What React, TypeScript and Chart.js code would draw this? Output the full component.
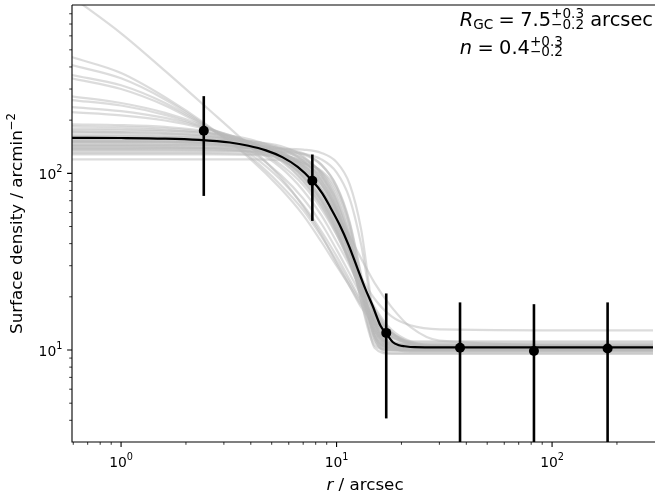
import React, { useEffect, useRef } from "react";
import { Chart, registerables } from "chart.js";

Chart.register(...registerables);

// ---------- data ----------
const xMin = 0.592;
const xMax = 294;
const yMin = 3.015;
const yMax = 897;

// radius grid of the grey posterior sample curves (arcsec)
const gridR = [0.59, 1, 1.6, 2.5, 4, 5.5, 7, 8.5, 10, 11.5, 13, 15, 18, 22, 30, 300];

// grey posterior sample curves (surface density at gridR)
const greyCurves: number[][] = [
  [169.8, 169.3, 167.7, 163.1, 148.6, 126.3, 99.3, 72.1, 48.6, 31.3, 20.3, 13.2, 10.3, 10.0, 10.0, 10.0],
  [150.5, 150.3, 149.9, 148.1, 140.7, 126.6, 105.6, 80.5, 55.7, 35.7, 22.2, 13.6, 10.7, 10.5, 10.5, 10.5],
  [135.2, 135.2, 135.1, 134.8, 132.5, 125.8, 112.1, 90.3, 63.5, 38.4, 21.2, 11.9, 10.2, 10.2, 10.2, 10.2],
  [179.3, 178.2, 175.3, 168.0, 148.7, 122.9, 94.8, 68.6, 47.0, 31.4, 21.2, 14.0, 10.5, 9.8, 9.8, 9.8],
  [144.8, 144.8, 144.7, 143.7, 139.5, 129.2, 111.3, 86.8, 59.8, 36.9, 21.7, 12.9, 10.85, 10.8, 10.8, 10.8],
  [160.3, 160.1, 159.3, 156.5, 146.2, 128.0, 103.4, 76.3, 51.4, 32.5, 20.5, 13.1, 10.6, 10.4, 10.4, 10.4],
  [128, 128, 128, 127.9, 127.2, 124.0, 115.0, 96.9, 69.0, 39.5, 19.0, 10.6, 10.0, 10.0, 10.0, 10.0],
  [139.6, 139.6, 139.6, 139.5, 138.9, 136.1, 128.3, 111.7, 85.0, 53.2, 26.8, 11.7, 9.6, 9.6, 9.6, 9.6],
  [175.0, 174.5, 173.1, 168.7, 155.2, 133.9, 107.8, 80.7, 56.3, 37.6, 24.8, 15.9, 11.8, 11.2, 11.2, 11.2],
  [155, 155, 155, 154.8, 151.5, 142.7, 124.9, 97.5, 65.0, 36.8, 19.1, 11.1, 10.0, 10.0, 10.0, 10.0],
  [133, 133, 133, 133, 133, 132.8, 128.8, 120.0, 101.3, 72.0, 39.6, 15.0, 11.0, 11.0, 11.0, 11.0],
  [138.2, 138.2, 138.2, 138.2, 138.2, 137.8, 136.2, 130.5, 115.7, 86.9, 48.2, 14.9, 10.2, 10.2, 10.2, 10.2],
  [189.4, 187.6, 183.1, 173.0, 149.0, 120.1, 91.1, 65.6, 45.4, 31.1, 21.8, 15.0, 11.4, 10.6, 10.5, 10.5],
  [120, 120, 120, 120, 120, 118.7, 114.5, 103.2, 81.0, 49.9, 23.0, 10.3, 9.5, 9.5, 9.5, 9.5],
  [165, 165, 164, 161, 150, 132, 108, 82, 57, 37, 23, 14, 10.6, 10.2, 10.2, 10.2],
  [148, 148, 147.5, 146, 139, 127, 109, 86, 61, 39, 23.5, 13.8, 10.5, 10.3, 10.3, 10.3],
  [157, 157, 156.5, 155, 149, 137, 117, 91, 62, 37, 21, 12.5, 10.1, 10.0, 10.0, 10.0],
  [142, 142, 142, 141.5, 139, 133, 121, 101, 73, 44, 23, 12.2, 10.4, 10.4, 10.4, 10.4],
  [172, 171, 169, 164, 150, 130, 104, 78, 54, 35, 22.5, 14.2, 10.9, 10.6, 10.6, 10.6],
  [130, 130, 130, 130, 129, 126, 118, 102, 77, 47, 24, 11.5, 9.9, 9.9, 9.9, 9.9],
  [162, 162, 161, 159, 152, 139, 118, 92, 64, 40, 23, 13, 10.3, 10.2, 10.2, 10.2],
  [150, 150, 150, 149.5, 146, 138, 123, 100, 71, 43, 23, 12, 10.0, 9.9, 9.9, 9.9],
  [185, 183, 179, 170, 149, 124, 96, 70, 48, 32, 21.5, 14.5, 11, 10.5, 10.5, 10.5],
  [137, 137, 137, 136.5, 134, 128, 115, 95, 68, 42, 23, 12.5, 10.6, 10.6, 10.6, 10.6],
  [153, 153, 152.5, 151, 145, 132, 112, 87, 61, 38, 22, 13, 10.8, 10.7, 10.7, 10.7],
  [145, 145, 145, 144.5, 143, 139, 130, 112, 84, 52, 26, 12, 10.3, 10.3, 10.3, 10.3],
  [455, 370, 270, 188, 120, 82, 58, 41, 30, 23, 18, 14.5, 12, 10.9, 10.4, 10.3],
  [410, 345, 262, 185, 123, 86, 62, 44, 32, 24, 18.5, 14.5, 12, 10.8, 10.2, 10.1],
  [360, 315, 250, 184, 128, 92, 66, 47, 34, 25, 19, 15, 12.2, 10.9, 10.4, 10.3],
  [345, 300, 242, 182, 133, 98, 72, 52, 37, 27, 20.5, 15.5, 12.5, 11.1, 10.5, 10.4],
  [273, 250, 220, 183, 140, 108, 80, 58, 41, 30, 22, 16, 12.5, 11, 10.4, 10.3],
  [260, 242, 214, 180, 142, 112, 86, 63, 45, 32, 23, 16.5, 12.5, 10.8, 10.1, 10.0],
  [237, 225, 206, 180, 148, 118, 90, 66, 47, 33, 24, 17, 12.6, 10.9, 10.4, 10.3],
  [222, 213, 199, 178, 150, 122, 95, 70, 50, 35, 25, 17.5, 13, 11.2, 10.6, 10.5],
  [1000, 620, 380, 235, 140, 95, 65, 45, 31, 23, 17.5, 14, 11.8, 10.8, 10.4, 10.3],
  [152, 152, 151, 148, 138, 120, 97, 73, 52, 36, 26, 19.5, 15.5, 13.8, 13.1, 12.9],
  [142, 142, 141, 139, 132, 119, 100, 80, 60, 44, 33, 24, 17.5, 13.5, 11.3, 10.5],
];

// best-fit profile (black curve)
const bestR = [0.59, 1, 1.6, 2.3, 3.2, 3.9, 4.7, 5.6, 6.6, 7.7, 8.6, 9.4, 10.3, 11.4, 12.5, 13.6, 14.7, 16, 17, 18.2, 19.5, 20.7, 23, 27, 294];
const bestS = [158.8, 158.5, 157.3, 154.6, 149.4, 143.3, 134.9, 123.5, 108.7, 91.0, 76.8, 63.5, 51.5, 39.0, 29.0, 22.2, 17.8, 13.7, 12.4, 11.1, 10.64, 10.5, 10.37, 10.35, 10.35];

// binned measurements
const pointR = [2.42, 7.72, 17.0, 37.4, 82.4, 181];
const pointS = [174, 90.8, 12.5, 10.3, 9.87, 10.2];
const pointErr = [99.5, 37, 8.4, 8.3, 8.3, 8.4];

// ticks
const xMajorTicks = [1, 10, 100];
const xMajorExp = ["0", "1", "2"];
const xMinorTicks = [0.6, 0.7, 0.8, 0.9, 2, 3, 4, 5, 6, 7, 8, 9, 20, 30, 40, 50, 60, 70, 80, 90, 200];
const yMajorTicks = [10, 100];
const yMajorExp = ["1", "2"];
const yMinorTicks = [4, 5, 6, 7, 8, 9, 20, 30, 40, 50, 60, 70, 80, 90, 200, 300, 400, 500, 600, 700, 800];

const xTitleItalic = "r";
const xTitleRest = " / arcsec";
const yTitleMain = "Surface density / arcmin";
const yTitleSup = "\u22122";

const rgcValue = "7.5";
const rgcUp = "+0.3";
const rgcDown = "\u22120.2";
const nValue = "0.4";
const nUp = "+0.3";
const nDown = "\u22120.2";

const FONT = "'DejaVu Sans', 'Liberation Sans', sans-serif";

type Run =
  | { kind: "text"; t: string; size: number; italic?: boolean; dy?: number }
  | { kind: "gap"; w: number }
  | { kind: "stack"; up: string; down: string; size: number; raise: number; drop: number };

function setFont(ctx: CanvasRenderingContext2D, size: number, italic?: boolean) {
  ctx.font = `${italic ? "italic " : ""}${size}px ${FONT}`;
}

function runWidth(ctx: CanvasRenderingContext2D, r: Run): number {
  if (r.kind === "gap") return r.w;
  if (r.kind === "text") {
    setFont(ctx, r.size, r.italic);
    return ctx.measureText(r.t).width;
  }
  setFont(ctx, r.size);
  return Math.max(ctx.measureText(r.up).width, ctx.measureText(r.down).width);
}

function drawRuns(ctx: CanvasRenderingContext2D, runs: Run[], x: number, y: number) {
  let cx = x;
  ctx.textAlign = "left";
  ctx.textBaseline = "alphabetic";
  for (const r of runs) {
    const w = runWidth(ctx, r);
    if (r.kind === "text") {
      setFont(ctx, r.size, r.italic);
      ctx.fillText(r.t, cx, y + (r.dy || 0));
    } else if (r.kind === "stack") {
      setFont(ctx, r.size);
      ctx.fillText(r.up, cx, y - r.raise);
      ctx.fillText(r.down, cx, y + r.drop);
    }
    cx += w;
  }
  return cx - x;
}

function totalWidth(ctx: CanvasRenderingContext2D, runs: Run[]) {
  return runs.reduce((s, r) => s + runWidth(ctx, r), 0);
}

const axesPlugin = {
  id: "mplAxes",
  afterDraw(chart: any) {
    const ctx: CanvasRenderingContext2D = chart.ctx;
    const xs = chart.scales.x;
    const ys = chart.scales.y;
    const a = chart.chartArea;
    ctx.save();
    ctx.strokeStyle = "#000";
    ctx.fillStyle = "#000";
    // spines
    ctx.lineWidth = 1.1;
    ctx.beginPath();
    ctx.moveTo(a.left, a.top);
    ctx.lineTo(a.right + 2, a.top);
    ctx.moveTo(a.left, a.top);
    ctx.lineTo(a.left, a.bottom);
    ctx.lineTo(a.right + 2, a.bottom);
    ctx.stroke();

    // major ticks
    ctx.lineWidth = 1.1;
    ctx.beginPath();
    xMajorTicks.forEach((v) => {
      const px = xs.getPixelForValue(v);
      ctx.moveTo(px, a.bottom);
      ctx.lineTo(px, a.bottom + 4.9);
    });
    yMajorTicks.forEach((v) => {
      const py = ys.getPixelForValue(v);
      ctx.moveTo(a.left, py);
      ctx.lineTo(a.left - 4.9, py);
    });
    ctx.stroke();
    // minor ticks
    ctx.lineWidth = 0.8;
    ctx.beginPath();
    xMinorTicks.forEach((v) => {
      const px = xs.getPixelForValue(v);
      if (px < a.left - 0.5 || px > a.right) return;
      ctx.moveTo(px, a.bottom);
      ctx.lineTo(px, a.bottom + 2.8);
    });
    yMinorTicks.forEach((v) => {
      const py = ys.getPixelForValue(v);
      if (py < a.top || py > a.bottom + 0.5) return;
      ctx.moveTo(a.left, py);
      ctx.lineTo(a.left - 2.8, py);
    });
    ctx.stroke();

    // tick labels
    const ts = 13.9;
    xMajorTicks.forEach((v, i) => {
      const px = xs.getPixelForValue(v);
      const runs: Run[] = [
        { kind: "text", t: "10", size: ts },
        { kind: "text", t: xMajorExp[i], size: ts * 0.7, dy: -6.5 },
      ];
      const w = totalWidth(ctx, runs);
      drawRuns(ctx, runs, px - w / 2, a.bottom + 24.7);
    });
    yMajorTicks.forEach((v, i) => {
      const py = ys.getPixelForValue(v);
      const runs: Run[] = [
        { kind: "text", t: "10", size: ts },
        { kind: "text", t: yMajorExp[i], size: ts * 0.7, dy: -6.5 },
      ];
      const w = totalWidth(ctx, runs);
      drawRuns(ctx, runs, a.left - 9.6 - w, py + 5.5);
    });

    // axis titles
    const ls = 16.7;
    const xt: Run[] = [
      { kind: "text", t: xTitleItalic, size: ls, italic: true },
      { kind: "text", t: xTitleRest, size: ls },
    ];
    const xw = totalWidth(ctx, xt);
    const xc = (a.left + 658) / 2;
    drawRuns(ctx, xt, xc - xw / 2, 490);

    const yt: Run[] = [
      { kind: "text", t: yTitleMain, size: ls },
      { kind: "text", t: yTitleSup, size: ls * 0.7, dy: -7.3 },
    ];
    const yw = totalWidth(ctx, yt);
    ctx.save();
    ctx.translate(22.2, (a.top + a.bottom) / 2);
    ctx.rotate(-Math.PI / 2);
    drawRuns(ctx, yt, -yw / 2, 0);
    ctx.restore();

    // annotation
    const F = 19.4;
    const sp = 0.2777 * F;
    const line1: Run[] = [
      { kind: "text", t: "R", size: F, italic: true },
      { kind: "text", t: "GC", size: F * 0.7, dy: 2.6 },
      { kind: "gap", w: sp },
      { kind: "text", t: "=", size: F },
      { kind: "gap", w: sp },
      { kind: "text", t: rgcValue, size: F },
      { kind: "stack", up: rgcUp, down: rgcDown, size: F * 0.7, raise: 7.8, drop: 2.4 },
      { kind: "text", t: " arcsec", size: F },
    ];
    const line2: Run[] = [
      { kind: "text", t: "n", size: F, italic: true },
      { kind: "gap", w: sp },
      { kind: "text", t: "=", size: F },
      { kind: "gap", w: sp },
      { kind: "text", t: nValue, size: F },
      { kind: "stack", up: nUp, down: nDown, size: F * 0.7, raise: 7.8, drop: 2.4 },
    ];
    const w1 = totalWidth(ctx, line1);
    const x0 = 653 - w1;
    drawRuns(ctx, line1, x0, 26.2);
    drawRuns(ctx, line2, x0, 53.5);

    ctx.restore();
  },
};

export default function App() {
  const ref = useRef<HTMLCanvasElement | null>(null);

  useEffect(() => {
    document.body.style.margin = "0";
    const canvas = ref.current;
    if (!canvas) return;

    const greySets = greyCurves.map((vals, i) => ({
      label: `sample ${i + 1}`,
      data: gridR.map((r, j) => ({ x: r, y: vals[j] })),
      borderColor: "rgba(185,185,185,0.5)",
      borderWidth: 2.2,
      pointRadius: 0,
      cubicInterpolationMode: "monotone" as const,
      fill: false,
      clip: 0,
      order: 4,
    }));

    const bestSet = {
      label: "best fit",
      data: bestR.map((r, j) => ({ x: r, y: bestS[j] })),
      borderColor: "#000",
      borderWidth: 2.2,
      pointRadius: 0,
      cubicInterpolationMode: "monotone" as const,
      fill: false,
      clip: 0,
      order: 3,
    };

    const errSets = pointR.map((r, i) => ({
      label: `err ${i + 1}`,
      data: [
        { x: r, y: pointS[i] - pointErr[i] },
        { x: r, y: pointS[i] + pointErr[i] },
      ],
      borderColor: "#000",
      borderWidth: 2.6,
      pointRadius: 0,
      fill: false,
      clip: 0,
      order: 2,
    }));

    const pointSet = {
      label: "data",
      data: pointR.map((r, i) => ({ x: r, y: pointS[i] })),
      showLine: false,
      pointRadius: 5,
      pointBackgroundColor: "#000",
      pointBorderWidth: 0,
      borderColor: "#000",
      clip: 0,
      order: 1,
    };

    const chart = new Chart(canvas, {
      type: "line",
      data: { datasets: [pointSet, ...errSets, bestSet, ...greySets] as any },
      options: {
        responsive: false,
        devicePixelRatio: 1,
        animation: false,
        events: [],
        layout: { padding: { left: 72, top: 5, right: 0, bottom: 53 } },
        plugins: { legend: { display: false }, tooltip: { enabled: false } },
        scales: {
          x: { type: "logarithmic", min: xMin, max: xMax, display: false },
          y: { type: "logarithmic", min: yMin, max: yMax, display: false },
        },
      },
      plugins: [axesPlugin],
    });
    return () => chart.destroy();
  }, []);

  return <canvas ref={ref} width={658} height={495} style={{ display: "block" }} />;
}
